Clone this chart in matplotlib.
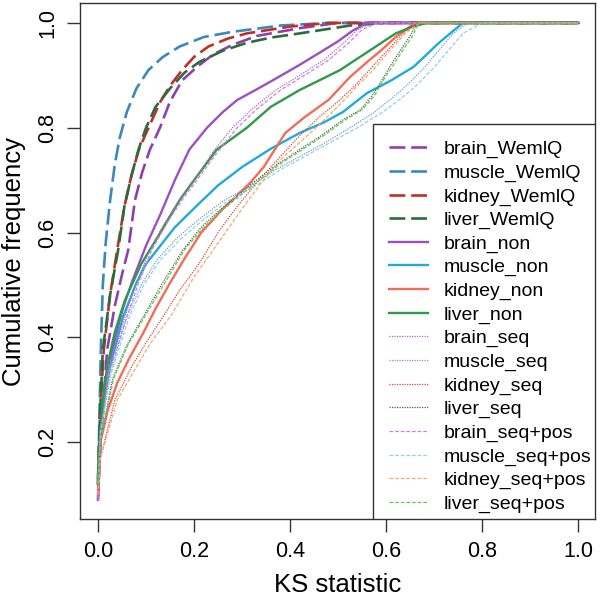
import matplotlib
matplotlib.use("Agg")
import matplotlib.pyplot as plt
from matplotlib.patches import Rectangle

plt.rcParams['font.family'] = ['Liberation Sans', 'DejaVu Sans']

# ---- data (ECDF of KS statistic) ----
brain_wemiq_x = [0, 0.005, 0.019, 0.035, 0.05, 0.063, 0.077, 0.092, 0.108, 0.129, 0.15, 0.175, 0.206, 0.24, 0.28, 0.33, 0.42, 0.5, 1.0]
brain_wemiq_y = [0.09, 0.2, 0.376, 0.46, 0.52, 0.567, 0.662, 0.715, 0.758, 0.80, 0.85, 0.89, 0.916, 0.94, 0.958, 0.975, 0.99, 1.0, 1.0]
muscle_wemiq_x = [0, 0.003, 0.006, 0.01, 0.016, 0.025, 0.035, 0.045, 0.06, 0.08, 0.105, 0.135, 0.17, 0.22, 0.28, 0.38, 0.48, 1.0]
muscle_wemiq_y = [0.12, 0.25, 0.38, 0.5, 0.58, 0.66, 0.73, 0.78, 0.83, 0.875, 0.91, 0.935, 0.955, 0.973, 0.983, 0.995, 1.0, 1.0]
kidney_wemiq_x = [0, 0.004, 0.012, 0.025, 0.04, 0.055, 0.07, 0.085, 0.11, 0.13, 0.15, 0.175, 0.2, 0.23, 0.27, 0.31, 0.40, 0.48, 1.0]
kidney_wemiq_y = [0.12, 0.25, 0.376, 0.48, 0.567, 0.65, 0.71, 0.758, 0.81, 0.85, 0.88, 0.91, 0.935, 0.955, 0.97, 0.98, 0.993, 1.0, 1.0]
liver_wemiq_x = [0, 0.004, 0.01, 0.025, 0.042, 0.055, 0.07, 0.085, 0.10, 0.12, 0.15, 0.18, 0.21, 0.26, 0.31, 0.36, 0.42, 0.525, 0.6, 1.0]
liver_wemiq_y = [0.13, 0.25, 0.376, 0.48, 0.567, 0.65, 0.71, 0.76, 0.80, 0.84, 0.875, 0.905, 0.925, 0.947, 0.962, 0.972, 0.98, 0.995, 1.0, 1.0]

brain_non_x = [0, 0.005, 0.015, 0.03, 0.05, 0.07, 0.1, 0.13, 0.16, 0.19, 0.227, 0.26, 0.29, 0.33, 0.365, 0.42, 0.47, 0.5, 0.53, 0.56, 1.0]
brain_non_y = [0.09, 0.2, 0.3, 0.376, 0.45, 0.504, 0.575, 0.635, 0.7, 0.758, 0.80, 0.83, 0.853, 0.873, 0.891, 0.92, 0.948, 0.965, 0.985, 1.0, 1.0]
muscle_non_x = [0, 0.005, 0.012, 0.025, 0.052, 0.08, 0.1, 0.123, 0.16, 0.21, 0.25, 0.30, 0.36, 0.42, 0.47, 0.51, 0.56, 0.61, 0.657, 0.71, 0.74, 0.76, 1.0]
muscle_non_y = [0.12, 0.22, 0.28, 0.344, 0.439, 0.504, 0.54, 0.567, 0.61, 0.655, 0.69, 0.725, 0.76, 0.79, 0.81, 0.83, 0.866, 0.89, 0.916, 0.962, 0.985, 1.0, 1.0]
kidney_non_x = [0, 0.005, 0.02, 0.04, 0.065, 0.094, 0.12, 0.15, 0.18, 0.215, 0.26, 0.317, 0.345, 0.39, 0.43, 0.48, 0.525, 0.56, 0.59, 0.62, 0.66, 1.0]
kidney_non_y = [0.1, 0.2, 0.26, 0.313, 0.36, 0.408, 0.455, 0.504, 0.55, 0.60, 0.645, 0.695, 0.725, 0.79, 0.82, 0.853, 0.897, 0.925, 0.948, 0.973, 1.0, 1.0]
liver_non_x = [0, 0.004, 0.01, 0.019, 0.035, 0.056, 0.09, 0.13, 0.17, 0.2, 0.247, 0.28, 0.31, 0.36, 0.42, 0.46, 0.504, 0.567, 0.62, 0.655, 0.685, 1.0]
liver_non_y = [0.12, 0.2, 0.28, 0.344, 0.41, 0.471, 0.54, 0.60, 0.662, 0.7, 0.758, 0.78, 0.80, 0.84, 0.872, 0.89, 0.91, 0.948, 0.98, 0.993, 1.0, 1.0]

brain_seq_x = [0, 0.005, 0.02, 0.056, 0.08, 0.108, 0.14, 0.17, 0.205, 0.24, 0.28, 0.32, 0.37, 0.42, 0.47, 0.51, 0.54, 0.57, 1.0]
brain_seq_y = [0.09, 0.2, 0.33, 0.439, 0.505, 0.567, 0.62, 0.662, 0.705, 0.755, 0.80, 0.835, 0.872, 0.9, 0.929, 0.96, 0.987, 1.0, 1.0]
muscle_seq_x = [0, 0.005, 0.025, 0.06, 0.09, 0.123, 0.165, 0.21, 0.26, 0.32, 0.37, 0.42, 0.47, 0.525, 0.573, 0.61, 0.64, 0.68, 0.71, 0.74, 0.77, 1.0]
muscle_seq_y = [0.12, 0.22, 0.33, 0.439, 0.5, 0.548, 0.59, 0.625, 0.66, 0.69, 0.72, 0.745, 0.77, 0.80, 0.828, 0.855, 0.878, 0.915, 0.948, 0.98, 1.0, 1.0]
kidney_seq_x = [0, 0.005, 0.035, 0.07, 0.1, 0.135, 0.17, 0.21, 0.25, 0.29, 0.335, 0.38, 0.42, 0.46, 0.5, 0.535, 0.565, 0.6, 0.635, 0.665, 1.0]
kidney_seq_y = [0.1, 0.17, 0.28, 0.344, 0.39, 0.439, 0.49, 0.54, 0.6, 0.65, 0.7, 0.745, 0.785, 0.82, 0.85, 0.88, 0.91, 0.945, 0.98, 1.0, 1.0]
liver_seq_x = [0, 0.005, 0.03, 0.06, 0.094, 0.135, 0.177, 0.215, 0.25, 0.29, 0.323, 0.37, 0.42, 0.465, 0.51, 0.546, 0.57, 0.5875, 0.61, 0.63, 0.65, 0.665, 1.0]
liver_seq_y = [0.12, 0.2, 0.32, 0.385, 0.439, 0.505, 0.567, 0.61, 0.64, 0.67, 0.695, 0.728, 0.758, 0.785, 0.815, 0.834, 0.86, 0.885, 0.92, 0.948, 0.975, 1.0, 1.0]

brain_pos_x = [0, 0.005, 0.022, 0.06, 0.085, 0.112, 0.145, 0.175, 0.21, 0.25, 0.29, 0.33, 0.38, 0.43, 0.48, 0.52, 0.55, 0.58, 1.0]
brain_pos_y = [0.09, 0.2, 0.33, 0.439, 0.505, 0.567, 0.62, 0.662, 0.705, 0.755, 0.80, 0.835, 0.872, 0.9, 0.929, 0.96, 0.987, 1.0, 1.0]
muscle_pos_x = [0, 0.005, 0.027, 0.065, 0.095, 0.13, 0.175, 0.22, 0.27, 0.33, 0.38, 0.43, 0.48, 0.54, 0.59, 0.63, 0.66, 0.70, 0.73, 0.76, 0.80, 1.0]
muscle_pos_y = [0.12, 0.22, 0.33, 0.439, 0.5, 0.548, 0.59, 0.625, 0.66, 0.69, 0.72, 0.745, 0.77, 0.80, 0.828, 0.855, 0.878, 0.915, 0.948, 0.98, 1.0, 1.0]
kidney_pos_x = [0, 0.005, 0.04, 0.08, 0.11, 0.15, 0.2, 0.25, 0.30, 0.34, 0.38, 0.43, 0.477, 0.51, 0.54, 0.573, 0.61, 0.64, 0.67, 1.0]
kidney_pos_y = [0.1, 0.17, 0.28, 0.344, 0.39, 0.439, 0.515, 0.58, 0.645, 0.695, 0.739, 0.78, 0.82, 0.85, 0.88, 0.91, 0.95, 0.98, 1.0, 1.0]
liver_pos_x = [0, 0.005, 0.032, 0.062, 0.097, 0.14, 0.18, 0.22, 0.255, 0.295, 0.33, 0.375, 0.425, 0.47, 0.515, 0.55, 0.575, 0.59, 0.615, 0.635, 0.655, 0.668, 1.0]
liver_pos_y = [0.12, 0.2, 0.32, 0.385, 0.439, 0.505, 0.567, 0.61, 0.64, 0.67, 0.695, 0.728, 0.758, 0.785, 0.815, 0.834, 0.86, 0.885, 0.92, 0.948, 0.975, 1.0, 1.0]

x_ticks = [0.0, 0.2, 0.4, 0.6, 0.8, 1.0]
y_ticks = [0.2, 0.4, 0.6, 0.8, 1.0]

#============================PLOT============================
fig = plt.figure(figsize=(6.01, 6.06), dpi=100)
ax = fig.add_axes([80 / 601, 87 / 606, 515 / 601, 516 / 606])

dash = (0, (6, 2.2))
series = [
    (brain_wemiq_x, brain_wemiq_y, '#8e3fb0', dash, 1.9, 'brain_WemlQ'),
    (muscle_wemiq_x, muscle_wemiq_y, '#3b88bd', dash, 1.9, 'muscle_WemlQ'),
    (kidney_wemiq_x, kidney_wemiq_y, '#bf2f2a', dash, 1.9, 'kidney_WemlQ'),
    (liver_wemiq_x, liver_wemiq_y, '#2e6b3b', dash, 1.9, 'liver_WemlQ'),
    (brain_non_x, brain_non_y, '#9d4fc4', '-', 1.7, 'brain_non'),
    (muscle_non_x, muscle_non_y, '#21a9de', '-', 1.7, 'muscle_non'),
    (kidney_non_x, kidney_non_y, '#f26c57', '-', 1.7, 'kidney_non'),
    (liver_non_x, liver_non_y, '#2f9a48', '-', 1.7, 'liver_non'),
    (brain_seq_x, brain_seq_y, '#b466cc', (0, (1, 1)), 0.9, 'brain_seq'),
    (muscle_seq_x, muscle_seq_y, '#6d9fd0', (0, (1, 1)), 0.9, 'muscle_seq'),
    (kidney_seq_x, kidney_seq_y, '#d9473a', (0, (1, 1)), 0.9, 'kidney_seq'),
    (liver_seq_x, liver_seq_y, '#3f6e40', (0, (1, 1)), 0.9, 'liver_seq'),
    (brain_pos_x, brain_pos_y, '#d27fd8', (0, (3, 1.5)), 0.9, 'brain_seq+pos'),
    (muscle_pos_x, muscle_pos_y, '#92cfee', (0, (3, 1.5)), 0.9, 'muscle_seq+pos'),
    (kidney_pos_x, kidney_pos_y, '#f7a86f', (0, (3, 1.5)), 0.9, 'kidney_seq+pos'),
    (liver_pos_x, liver_pos_y, '#6cc45e', (0, (3, 1.5)), 0.9, 'liver_seq+pos'),
]
for xs, ys, col, ls, lw, lab in series:
    ax.plot(xs, ys, color=col, linestyle=ls, linewidth=lw, label=lab)

ax.set_xlim(-0.0375, 1.035)
ax.set_ylim(0.0534, 1.038)
ax.set_xticks(x_ticks)
ax.set_xticklabels(['%.1f' % v for v in x_ticks])
ax.set_yticks(y_ticks)
ax.set_yticklabels(['%.1f' % v for v in y_ticks], rotation=90, va='center')
ax.tick_params(direction='out', length=9.5, width=1, color='#333333',
               labelsize=15.5, pad=6)
for s in ax.spines.values():
    s.set_color('#333333')
    s.set_linewidth(1)

ax.set_xlabel('KS statistic', fontsize=18.5, labelpad=8)
ax.set_ylabel('Cumulative frequency', fontsize=18.5, labelpad=8)

# legend box drawn separately so the rows can sit like R's legend()
ax.add_patch(Rectangle((0.569, 0), 0.431, 0.7655, transform=ax.transAxes,
                       facecolor='white', edgecolor='#333333', linewidth=1,
                       zorder=4))
leg = ax.legend(loc='lower left', bbox_to_anchor=(0.600, 0.012),
                borderaxespad=0, borderpad=0, fontsize=14, frameon=False,
                handlelength=2.0, handletextpad=0.8, labelspacing=0.3)
leg.set_zorder(5)

fig.savefig('out.png', dpi=100)
